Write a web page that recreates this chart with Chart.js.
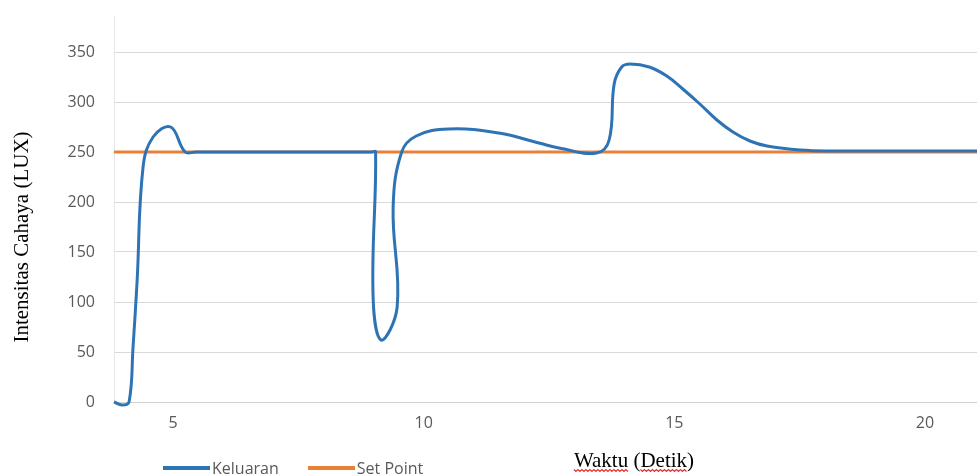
<!DOCTYPE html>
<html>
<head>
<meta charset="utf-8">
<script src="https://cdn.jsdelivr.net/npm/chart.js@4.4.1/dist/chart.umd.min.js"></script>
<style>
    html, body { margin: 0; padding: 0; background: #fff; }
    .wrap { position: relative; width: 977px; height: 475px; }
    #legend { position: absolute; left: 163px; top: 458px; display: flex; font: 16px "Open Sans", sans-serif; color: #595959; line-height: 20px; }
    #legend .item { display: flex; align-items: center; margin-right: 29px; }
    #legend .swatch { width: 47px; height: 4px; margin-right: 2px; }
</style>
</head>
<body>
<div class="wrap">
    <canvas id="chartRespon" width="977" height="475"></canvas>
    <div id="legend"></div>
</div>
<script>
// ── Data ──
const keluaranT = [3.82, 3.98, 4.12, 4.2, 4.28, 4.4, 4.6, 4.95, 5.24, 5.45, 6.5, 7.8, 8.95, 9.04,
    8.99, 9.15, 9.47, 9.39, 9.56, 9.85, 10.5, 11.5, 12.3, 12.7, 13.45, 13.7, 13.8, 13.95, 14.12, 14.5,
    14.85, 15.17, 15.51, 15.85, 16.17, 16.51, 16.85, 17.51, 18.2, 19.5, 21.04];
const keluaranV = [0, -3, 0, 55, 120, 235, 265, 275, 250, 250, 250, 250, 250, 250,
    105, 62, 95, 195, 250, 266, 273, 269, 259, 254, 249, 262, 318, 335, 338, 335,
    326, 313, 298, 282, 270, 261, 256, 252, 251, 251, 251];

const setPointT = [3.82, 21.04];
const setPointV = [250, 250];

const xTicks = [5, 10, 15, 20];
const yTicks = [0, 50, 100, 150, 200, 250, 300, 350];

const toPoints = (xs, ys) => xs.map((x, i) => ({ x: x, y: ys[i] }));

// red spell-check squiggle under a word
function squiggle(ctx, x0, x1, y) {
    ctx.beginPath();
    for (let x = x0, k = 0; x <= x1; x += 2, k++) {
        const yy = y + (k % 2 ? 1.5 : -0.5);
        if (k === 0) ctx.moveTo(x, yy); else ctx.lineTo(x, yy);
    }
    ctx.stroke();
}

// ── Axis titles drawn on the canvas ──
const axisTitles = {
    id: 'axisTitles',
    afterDraw(chart) {
        const ctx = chart.ctx;
        ctx.save();
        ctx.fillStyle = '#000';
        ctx.font = '21px "Liberation Serif", serif';
        ctx.textBaseline = 'middle';

        const title = 'Waktu (Detik)';
        const w = ctx.measureText(title).width;
        const x0 = 634 - w / 2, y0 = 461;
        ctx.textAlign = 'left';
        ctx.fillText(title, x0, y0);
        ctx.strokeStyle = '#e03030';
        ctx.lineWidth = 1.2;
        squiggle(ctx, x0, x0 + ctx.measureText('Waktu').width, y0 + 9);
        const d0 = x0 + ctx.measureText('Waktu (').width;
        squiggle(ctx, d0, d0 + ctx.measureText('Detik').width, y0 + 9);

        ctx.textAlign = 'center';
        ctx.translate(22, 237);
        ctx.rotate(-Math.PI / 2);
        ctx.fillText('Intensitas Cahaya (LUX)', 0, 0);
        ctx.restore();
    }
};

// ── HTML legend ──
const htmlLegend = {
    id: 'htmlLegend',
    afterUpdate(chart) {
        const box = document.getElementById('legend');
        box.innerHTML = '';
        chart.data.datasets.forEach(ds => {
            const item = document.createElement('div');
            item.className = 'item';
            const sw = document.createElement('span');
            sw.className = 'swatch';
            sw.style.background = ds.borderColor;
            const txt = document.createElement('span');
            txt.textContent = ds.label;
            item.appendChild(sw);
            item.appendChild(txt);
            box.appendChild(item);
        });
    }
};

new Chart(document.getElementById('chartRespon'), {
    type: 'scatter',
    data: {
        datasets: [
            {
                label: 'Keluaran',
                data: toPoints(keluaranT, keluaranV),
                borderColor: '#2E74B5',
                borderWidth: 3,
                showLine: true,
                tension: 0.4,
                pointRadius: 0,
                clip: false
            },
            {
                label: 'Set Point',
                data: toPoints(setPointT, setPointV),
                borderColor: '#E8803A',
                borderWidth: 3,
                showLine: true,
                pointRadius: 0
            }
        ]
    },
    options: {
        responsive: false,
        animation: false,
        layout: { padding: { top: 16, right: 0, left: 0, bottom: 0 } },
        plugins: {
            legend: { display: false },
            tooltip: { enabled: false }
        },
        scales: {
            x: {
                type: 'linear',
                min: 3.82, max: 21.04,
                afterBuildTicks: s => { s.ticks = xTicks.map(v => ({ value: v })); },
                afterFit: s => { s.height = 73; s.paddingLeft = 0; s.paddingRight = 0; },
                grid: { display: false, drawTicks: false },
                border: { display: true, color: '#d0d0d0', width: 1 },
                ticks: { color: '#595959', padding: 12, font: { family: 'Open Sans', size: 16 }, maxRotation: 0 }
            },
            y: {
                min: 0, max: 386,
                afterBuildTicks: s => { s.ticks = yTicks.map(v => ({ value: v })); },
                afterFit: s => { s.width = 114; s.paddingTop = 0; s.paddingBottom = 0; },
                grid: { color: '#d9d9d9', drawTicks: false },
                border: { display: true, color: '#e8e8e8' },
                ticks: { color: '#595959', padding: 19, font: { family: 'Open Sans', size: 16 } }
            }
        }
    },
    plugins: [axisTitles, htmlLegend]
});
</script>
</body>
</html>
